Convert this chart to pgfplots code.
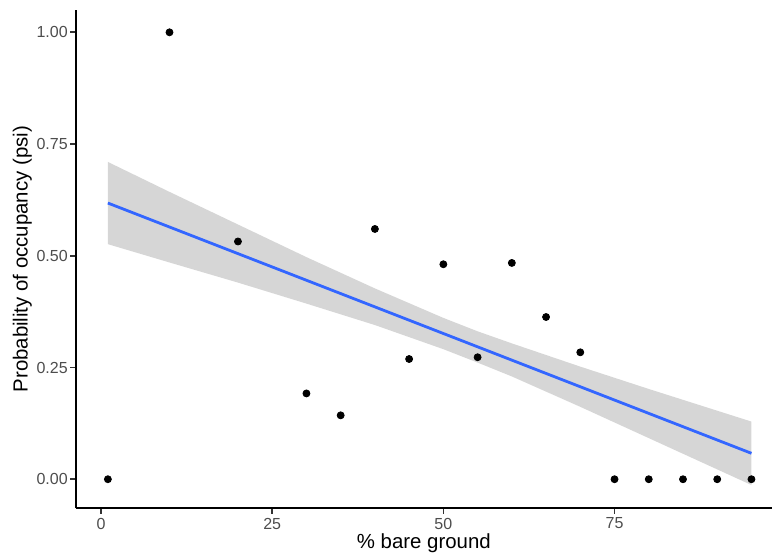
\documentclass[border=0pt]{standalone}
\usepackage{pgfplots}
\pgfplotsset{compat=1.18}
\usepackage{fontspec}
\setmainfont{Liberation Sans}
\definecolor{smoothblue}{HTML}{3366FF}
\definecolor{ribbongrey}{HTML}{999999}
\definecolor{ticktext}{HTML}{4D4D4D}
\definecolor{tickline}{HTML}{333333}

\begin{document}
\begin{tikzpicture}
\begin{axis}[
  scale only axis,
  width=348.15pt, height=249.15pt,
  xmin=-3.7, xmax=98.0,
  ymin=-0.065, ymax=1.05,
  axis x line=bottom, axis y line=left,
  axis line style={-, black, line width=0.85pt},
  tick align=outside,
  major tick length=2.75pt,
  tick style={tickline, line width=0.85pt},
  xtick={0,25,50,75},
  ytick={0,0.25,0.5,0.75,1},
  yticklabel style={xshift=2.3pt, /pgf/number format/.cd, fixed, fixed zerofill, precision=2},
  /pgf/number format/assume math mode=true,
  ticklabel style={font=\fontsize{8}{9.5}\selectfont, text=ticktext},
  xticklabel style={yshift=1.5pt},
  xlabel={\% bare ground},
  ylabel={Probability of occupancy (psi)},
  label style={font=\fontsize{10.2}{12}\selectfont, text=black},
  xlabel style={yshift=4.8pt},
  ylabel style={yshift=-4.5pt},
  clip=false,
]
  % observed psi per site
  \addplot[only marks, mark=*, mark size=1.75pt, black] coordinates {
    (1,0) (10,1.0) (20,0.532) (30,0.192) (35,0.143) (40,0.560)
    (45,0.269) (50,0.481) (55,0.273) (60,0.484) (65,0.363) (70,0.284)
    (75,0) (80,0) (85,0) (90,0) (95,0)
  };
  % confidence band of the linear fit (upper edge, then lower edge back)
  \addplot[draw=none, fill=ribbongrey, fill opacity=0.4] coordinates {
    (1,0.710) (10,0.643) (20,0.570) (30,0.497) (40,0.427) (50,0.361)
    (55,0.331) (60,0.304) (70,0.252) (80,0.202) (95,0.129)
    (95,-0.013) (80,0.092) (70,0.162) (60,0.230) (55,0.261) (50,0.291)
    (40,0.345) (30,0.393) (20,0.440) (10,0.485) (1,0.526)
  } -- cycle;
  % fitted line
  \addplot[smoothblue, line width=1.4pt] coordinates {
    (1,0.618) (95,0.058)
  };
  \coordinate (ll) at (rel axis cs:0,0);
  \coordinate (ur) at (rel axis cs:1,1);
\end{axis}
\pgfresetboundingbox
\path[use as bounding box] ([shift={(-37.85pt,-22.85pt)}]ll) rectangle ([shift={(0pt,5pt)}]ur);
\end{tikzpicture}
\end{document}
